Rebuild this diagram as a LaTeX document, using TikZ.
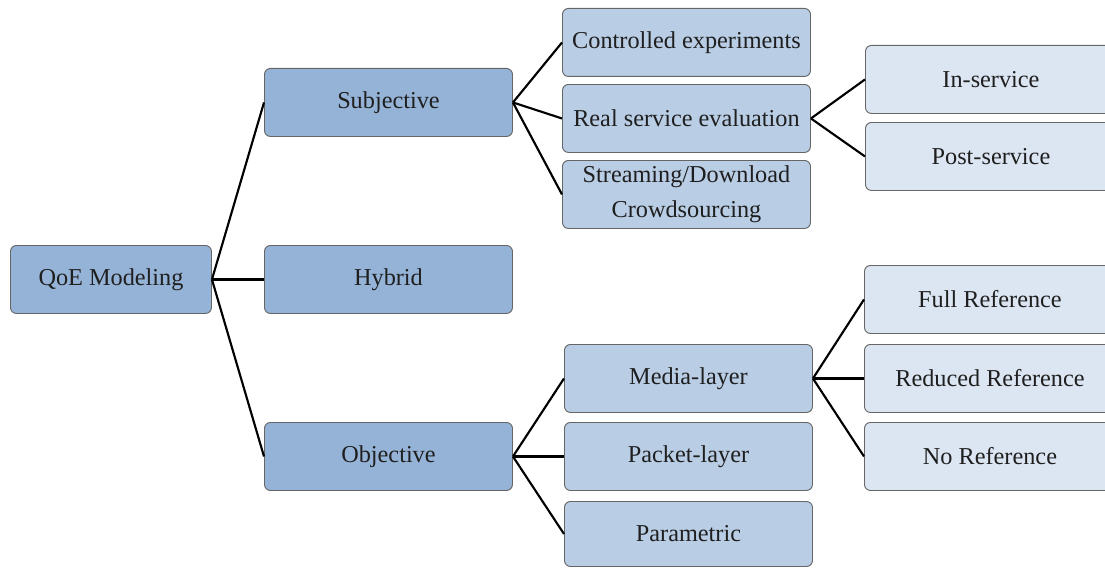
\documentclass[tikz,border=0pt]{standalone}
\usepackage{fontspec}
\setmainfont{Liberation Serif}
\begin{document}
\begin{tikzpicture}[x=0.75pt,y=-0.75pt,
  box/.style={draw=black!60, line width=0.7pt, rounded corners=4.5pt,
    text=black!88, font=\fontsize{18.2pt}{21pt}\selectfont, align=center,
    inner sep=0pt, anchor=north west, minimum height=51pt},
  lvA/.style={box, fill=lvAfill},
  lvB/.style={box, fill=lvBfill, minimum width=186pt},
  lvC/.style={box, fill=lvCfill, minimum width=188.25pt},
  link/.style={draw=black, line width=1.6pt}]
\definecolor{lvAfill}{HTML}{95B3D7}
\definecolor{lvBfill}{HTML}{B9CDE5}
\definecolor{lvCfill}{HTML}{DCE6F2}
\useasboundingbox (0,0) rectangle (1105,567);
\clip (0,0) rectangle (1105,567);

% root and first level
\node[lvA, minimum width=150.75pt] (root) at (10,245) {QoE Modeling};
\node[lvA, minimum width=186pt] (subj) at (264,68) {Subjective};
\node[lvA, minimum width=186pt] (hyb)  at (264,245) {Hybrid};
\node[lvA, minimum width=186pt] (obj)  at (264,422) {Objective};

% second level
\node[lvB] (ctrl) at (562,8) {Controlled experiments};
\node[lvB] (real) at (562,84) {Real service evaluation};
\node[lvB] (strm) at (562,160) {Streaming/Download\\[5pt]Crowdsourcing};
\node[lvB] (media) at (564,344) {Media-layer};
\node[lvB] (pack)  at (564,422) {Packet-layer};
\node[lvB, minimum height=48.75pt] (para)  at (564,501) {Parametric};

% third level
\node[lvC] (insv) at (865,45) {In-service};
\node[lvC] (post) at (865,122) {Post-service};
\node[lvC] (full) at (864,265) {Full Reference};
\node[lvC] (redu) at (864,344) {Reduced Reference};
\node[lvC] (noref) at (864,422) {No Reference};

% connectors
\foreach \c in {subj,hyb,obj} \draw[link] (root.east) -- (\c.west);
\foreach \c in {ctrl,real,strm} \draw[link] (subj.east) -- (\c.west);
\foreach \c in {media,pack,para} \draw[link] (obj.east) -- (\c.west);
\foreach \c in {insv,post} \draw[link] (real.east) -- (\c.west);
\foreach \c in {full,redu,noref} \draw[link] (media.east) -- (\c.west);
\end{tikzpicture}
\end{document}
